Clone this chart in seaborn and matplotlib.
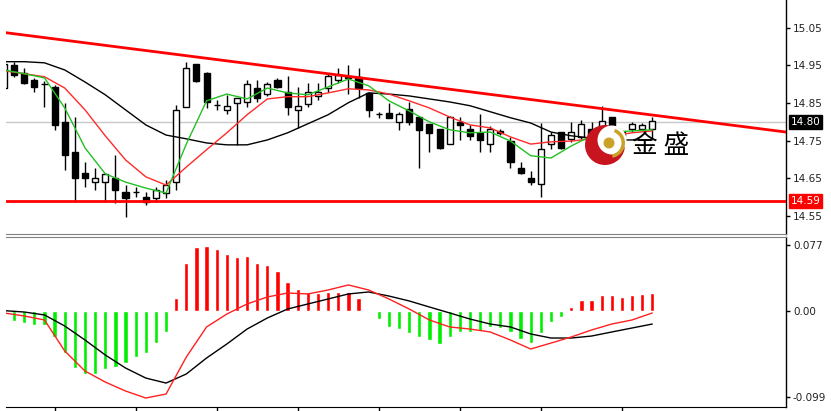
import numpy as np
import seaborn as sns
import matplotlib.pyplot as plt
from matplotlib.patches import Circle, Wedge
from matplotlib.transforms import blended_transform_factory

# ---------------- datos de las velas ----------------
opens = [14.89, 14.95, 14.93, 14.912, 14.902, 14.893, 14.80, 14.72, 14.664, 14.64,
         14.64, 14.651, 14.614, 14.614, 14.60, 14.598, 14.611, 14.64, 14.84, 14.954,
         14.93, 14.845, 14.832, 14.85, 14.853, 14.89, 14.874, 14.912, 14.88, 14.832,
         14.848, 14.869, 14.89, 14.912, 14.918, 14.92, 14.877, 14.822, 14.824, 14.80,
         14.835, 14.813, 14.795, 14.781, 14.741, 14.80, 14.781, 14.771, 14.741, 14.776,
         14.749, 14.678, 14.651, 14.635, 14.741, 14.773, 14.755, 14.76, 14.781, 14.76,
         14.813, 14.773, 14.781, 14.781, 14.781]
highs = [14.965, 14.96, 14.944, 14.917, 14.909, 14.898, 14.85, 14.813, 14.694, 14.678,
         14.664, 14.712, 14.632, 14.627, 14.614, 14.627, 14.646, 14.845, 14.96, 14.954,
         14.933, 14.858, 14.872, 14.864, 14.912, 14.912, 14.906, 14.917, 14.922, 14.893,
         14.904, 14.904, 14.928, 14.944, 14.952, 14.944, 14.88, 14.827, 14.85, 14.827,
         14.853, 14.813, 14.795, 14.781, 14.816, 14.813, 14.792, 14.821, 14.789, 14.781,
         14.76, 14.694, 14.67, 14.797, 14.773, 14.773, 14.80, 14.805, 14.80, 14.843,
         14.813, 14.779, 14.80, 14.797, 14.813]
lows = [14.885, 14.92, 14.90, 14.88, 14.84, 14.779, 14.672, 14.587, 14.627, 14.619,
        14.587, 14.585, 14.547, 14.60, 14.579, 14.587, 14.598, 14.619, 14.84, 14.906,
        14.837, 14.832, 14.821, 14.739, 14.84, 14.853, 14.869, 14.89, 14.819, 14.784,
        14.84, 14.858, 14.88, 14.904, 14.874, 14.864, 14.813, 14.811, 14.811, 14.779,
        14.792, 14.678, 14.72, 14.729, 14.741, 14.752, 14.752, 14.72, 14.72, 14.766,
        14.678, 14.662, 14.632, 14.60, 14.728, 14.728, 14.747, 14.755, 14.747, 14.744,
        14.76, 14.76, 14.773, 14.779, 14.757]
closes = [14.955, 14.925, 14.904, 14.893, 14.900, 14.792, 14.712, 14.651, 14.651, 14.651,
          14.662, 14.619, 14.598, 14.613, 14.587, 14.619, 14.632, 14.832, 14.944, 14.909,
          14.853, 14.844, 14.843, 14.864, 14.901, 14.864, 14.901, 14.893, 14.84, 14.843,
          14.88, 14.88, 14.922, 14.925, 14.916, 14.89, 14.832, 14.820, 14.811, 14.821,
          14.80, 14.779, 14.771, 14.731, 14.813, 14.792, 14.763, 14.752, 14.781, 14.771,
          14.694, 14.664, 14.64, 14.728, 14.765, 14.731, 14.773, 14.795, 14.76, 14.803,
          14.776, 14.763, 14.795, 14.792, 14.803]

# medias móviles (leídas cada dos velas)
ma_idx = list(range(0, 65, 2))
ma_fast = [14.938, 14.928, 14.917, 14.837, 14.731, 14.662, 14.640, 14.624, 14.611, 14.741,
           14.856, 14.874, 14.861, 14.890, 14.877, 14.872, 14.893, 14.914, 14.896, 14.856,
           14.829, 14.800, 14.779, 14.771, 14.773, 14.749, 14.710, 14.704, 14.736, 14.763,
           14.773, 14.776, 14.779]
ma_mid = [14.936, 14.928, 14.920, 14.890, 14.832, 14.763, 14.699, 14.654, 14.632, 14.680,
          14.726, 14.771, 14.819, 14.861, 14.867, 14.867, 14.877, 14.888, 14.885, 14.874,
          14.856, 14.837, 14.813, 14.792, 14.784, 14.760, 14.741, 14.747, 14.749, 14.755,
          14.763, 14.771, 14.776]
ma_slow = [14.960, 14.960, 14.957, 14.938, 14.906, 14.872, 14.832, 14.792, 14.765, 14.755,
           14.744, 14.739, 14.739, 14.752, 14.771, 14.795, 14.819, 14.851, 14.877, 14.874,
           14.869, 14.861, 14.853, 14.843, 14.827, 14.811, 14.797, 14.773, 14.763, 14.757,
           14.752, 14.752, 14.752]

# líneas dibujadas a mano en el gráfico
trend_x = [0.2, 77.2]
trend_y = [15.037, 14.773]
support = 14.59
last_price = 14.80

# ---------------- MACD ----------------
hist = [-0.008, -0.0105, -0.013, -0.0156, -0.0156, -0.0295, -0.048, -0.0654, -0.072, -0.072,
        -0.0666, -0.064, -0.0596, -0.0527, -0.048, -0.0365, -0.0237, 0.0156, 0.056, 0.0747,
        0.0758, 0.0723, 0.0665, 0.063, 0.064, 0.056, 0.054, 0.047, 0.034, 0.026,
        0.0226, 0.021, 0.0226, 0.0226, 0.0226, 0.0156, 0.0012, -0.0087, -0.018, -0.020,
        -0.025, -0.0295, -0.033, -0.0376, -0.0295, -0.0237, -0.0237, -0.0226, -0.018, -0.019,
        -0.0237, -0.032, -0.0365, -0.025, -0.012, -0.0064, 0.005, 0.0133, 0.0133, 0.019,
        0.019, 0.017, 0.019, 0.020, 0.0214]
macd_line = [-0.0017, -0.0052, -0.0098, -0.0457, -0.0689, -0.0816, -0.092, -0.1001, -0.0955, -0.0527,
             -0.0179, -0.0029, 0.0087, 0.0168, 0.0214, 0.0203, 0.0249, 0.0307, 0.0249, 0.0145,
             0.0029, -0.0098, -0.0179, -0.0203, -0.0237, -0.033, -0.0434, -0.0365, -0.0295, -0.0214,
             -0.0145, -0.0098, -0.0017]
signal_line = [0.001, -0.0006, -0.004, -0.0168, -0.033, -0.0503, -0.0654, -0.077, -0.0828, -0.0723,
               -0.0538, -0.0376, -0.0203, -0.0075, 0.0029, 0.0087, 0.0145, 0.0203, 0.0226, 0.0179,
               0.0122, 0.0052, -0.0017, -0.0087, -0.0145, -0.0179, -0.026, -0.0307, -0.0307, -0.0284,
               -0.0237, -0.0191, -0.0145]

price_ticks = [15.05, 14.95, 14.85, 14.75, 14.65, 14.55]
macd_ticks = [0.077, 0.0, -0.099]
macd_labels = ["0.077", "0.00", "-0.099"]
x_ticks = [5, 13, 21, 29, 37, 45, 53, 61]

# ---------------- figura ----------------
sns.set_style("white")
plt.rcParams['font.family'] = ['DejaVu Sans']

W, H = 831, 411
fig = plt.figure(figsize=(W / 100, H / 100), dpi=100)
ax = fig.add_axes([6 / W, 1 - 234 / H, 780 / W, 234 / H])
ax2 = fig.add_axes([6 / W, 1 - 407 / H, 780 / W, 170 / H])

o = np.array(opens)
h = np.array(highs)
l = np.array(lows)
c = np.array(closes)
x = np.arange(len(o))
up = c >= o

# línea gris del precio actual, tendencia y soporte
ax.axhline(last_price, color="#c8c8c8", lw=1, zorder=1)
ax.plot(trend_x, trend_y, color="#ff0000", lw=2, zorder=6)
ax.axhline(support, color="#ff0000", lw=2, zorder=6)

# velas
ax.vlines(x, l, h, color="black", lw=1, zorder=3)
ax.bar(x, c - o, bottom=o, width=0.6, color=np.where(up, "white", "black"),
       edgecolor="black", linewidth=1, zorder=3)

# medias móviles
sns.lineplot(x=ma_idx, y=ma_slow, ax=ax, color="black", lw=1, zorder=5)
sns.lineplot(x=ma_idx, y=ma_mid, ax=ax, color="#ff2a2a", lw=1, zorder=5)
sns.lineplot(x=ma_idx, y=ma_fast, ax=ax, color="#22c022", lw=1, zorder=5)

ax.set_xlim(0.2, 77.2)
ax.set_ylim(14.502, 15.124)

# MACD
hist_arr = np.array(hist)
ax2.bar(x, hist_arr, width=0.42, color=np.where(hist_arr >= 0, "#ff0000", "#00ee00"), zorder=2)
sns.lineplot(x=ma_idx, y=signal_line, ax=ax2, color="black", lw=1, zorder=4)
sns.lineplot(x=ma_idx, y=macd_line, ax=ax2, color="#ff2020", lw=1, zorder=4)
ax2.set_xlim(0.2, 77.2)
ax2.set_ylim(-0.1105, 0.0862)

# ejes y marcas
for a in (ax, ax2):
    a.yaxis.tick_right()
    a.set_xlabel("")
    a.set_ylabel("")
    a.spines["left"].set_visible(False)
    a.spines["right"].set_color("black")
    a.spines["right"].set_linewidth(1)
    a.tick_params(axis="y", direction="out", length=3, width=1, color="black",
                  labelsize=7.5, pad=2, labelcolor="#222222")

ax.spines["top"].set_visible(False)
ax.spines["bottom"].set_color("#808080")
ax.set_xticks([])
ax.set_yticks(price_ticks)
ax.set_yticklabels([f"{t:.2f}" for t in price_ticks])

ax2.spines["top"].set_color("#808080")
ax2.spines["bottom"].set_color("black")
ax2.set_xticks(x_ticks)
ax2.set_xticklabels([])
ax2.tick_params(axis="x", direction="out", length=4, width=1, color="black", bottom=True)
ax2.set_yticks(macd_ticks)
ax2.set_yticklabels(macd_labels)

# etiquetas resaltadas del eje de precios
tr = blended_transform_factory(ax.transAxes, ax.transData)
ax.text(1.006, last_price, "14.80", transform=tr, fontsize=7.5, color="white",
        va="center", ha="left", bbox=dict(boxstyle="square,pad=0.18", fc="black", ec="black"))
ax.text(1.006, support, "14.59", transform=tr, fontsize=7.5, color="white",
        va="center", ha="left", bbox=dict(boxstyle="square,pad=0.18", fc="#ff0000", ec="#ff0000"))

# logotipo (marca de agua)
tin = fig.dpi_scale_trans
cx, cy = 6.05, (H - 145) / 100
fig.patches.append(Circle((cx, cy), 0.20, transform=tin, fc="#c8141e", ec="none", zorder=10))
fig.patches.append(Circle((cx + 0.07, cy + 0.05), 0.145, transform=tin, fc="white", ec="none", zorder=11))
fig.patches.append(Wedge((cx + 0.05, cy + 0.02), 0.15, -80, 70, width=0.035, transform=tin,
                         fc="#c9a227", ec="none", zorder=12))
fig.patches.append(Circle((cx + 0.04, cy + 0.02), 0.055, transform=tin, fc="#c9a227", ec="none", zorder=12))
fig.text(632 / W, 1 - 146 / H, "金 盛", fontsize=18.5, color="black", va="center", ha="left",
         family=["Noto Sans CJK SC", "DejaVu Sans"], zorder=13)

fig.savefig("out.png", dpi=100)
